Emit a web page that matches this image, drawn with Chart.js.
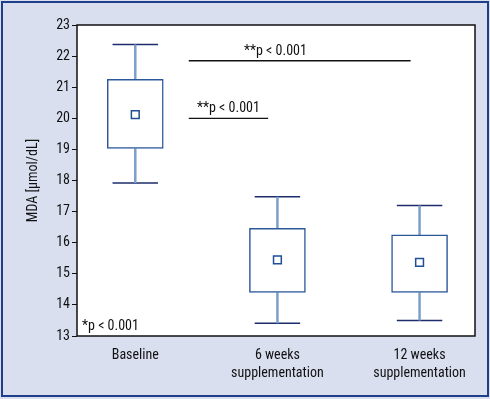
<!DOCTYPE html>
<html>
<head>
<meta charset="utf-8">
<script src="https://cdn.jsdelivr.net/npm/chart.js@4/dist/chart.umd.min.js"></script>
<style>
  html, body { margin: 0; padding: 0; background: #ffffff; }
  #wrap { width: 490px; height: 399px; }
</style>
</head>
<body>
<div id="wrap"><canvas id="c" width="490" height="399"></canvas></div>
<script>
// ---- data ----
const categories = [['Baseline'], ['6 weeks', 'supplementation'], ['12 weeks', 'supplementation']];
const whiskerMax = [22.37, 17.48, 17.20];
const boxQ3      = [21.25, 16.46, 16.25];
const meanVals   = [20.12, 15.45, 15.37];
const boxQ1      = [19.03, 14.40, 14.40];
const whiskerMin = [17.92, 13.41, 13.50];
const yTicks     = [13, 14, 15, 16, 17, 18, 19, 20, 21, 22, 23];

// significance annotations (data coordinates)
const sigLabels = ['**p < 0.001', '**p < 0.001'];
const sigY      = [21.85, 20.00];
const sigX0     = [0.376, 0.376];
const sigX1     = [1.937, 0.935];
const sigTextX  = [0.986, 0.655];
const noteText  = '*p < 0.001';

const FONT = "'Roboto Condensed', 'Liberation Sans', Arial, sans-serif";
const CAP = 0.16;

// build library datasets from arrays
const boxData = categories.map((c, i) => ({ x: i, y: [boxQ1[i], boxQ3[i]] }));
const meanData = categories.map((c, i) => ({ x: i, y: meanVals[i] }));
const stemData = [];
const capData = [];
categories.forEach((c, i) => {
  stemData.push({ x: i, y: whiskerMax[i] }, { x: i, y: boxQ3[i] }, { x: i, y: null });
  stemData.push({ x: i, y: boxQ1[i] }, { x: i, y: whiskerMin[i] }, { x: i, y: null });
  capData.push({ x: i - CAP, y: whiskerMax[i] }, { x: i + CAP, y: whiskerMax[i] }, { x: i, y: null });
  capData.push({ x: i - CAP, y: whiskerMin[i] }, { x: i + CAP, y: whiskerMin[i] }, { x: i, y: null });
});
const sigData = [];
sigY.forEach((y, k) => {
  sigData.push({ x: sigX0[k], y: y }, { x: sigX1[k], y: y }, { x: sigX1[k], y: null });
});

const framePlugin = {
  id: 'frame',
  beforeDraw(chart) {
    const ctx = chart.ctx, a = chart.chartArea;
    ctx.save();
    ctx.fillStyle = '#dadff0';
    ctx.fillRect(0, 0, chart.width, chart.height);
    ctx.strokeStyle = '#1f3f8a';
    ctx.lineWidth = 2;
    ctx.strokeRect(2, 2, chart.width - 4, chart.height - 5);
    ctx.fillStyle = '#ffffff';
    ctx.fillRect(a.left, a.top, a.right - a.left, a.bottom - a.top);
    ctx.strokeStyle = '#111111';
    ctx.lineWidth = 1.5;
    ctx.strokeRect(a.left, a.top, a.right - a.left, a.bottom - a.top);
    ctx.restore();
  },
  afterDatasetsDraw(chart) {
    const ctx = chart.ctx, a = chart.chartArea;
    const xs = chart.scales.x, ys = chart.scales.y;
    ctx.save();
    ctx.fillStyle = '#111111';
    ctx.font = '14px ' + FONT;
    ctx.textAlign = 'center';
    ctx.textBaseline = 'alphabetic';
    sigLabels.forEach((t, k) => {
      ctx.fillText(t, xs.getPixelForValue(sigTextX[k]), ys.getPixelForValue(sigY[k]) - 6);
    });
    ctx.textAlign = 'left';
    ctx.fillText(noteText, a.left + 5, a.bottom - 6);
    ctx.restore();
  }
};

new Chart(document.getElementById('c'), {
  type: 'bar',
  data: {
    datasets: [
      {
        type: 'scatter', data: meanData, order: 0,
        pointStyle: 'rect', pointRadius: 5.5, pointHoverRadius: 5.5,
        pointBackgroundColor: '#ffffff', pointBorderColor: '#1f4f96', pointBorderWidth: 1.5
      },
      {
        type: 'bar', data: boxData, order: 1,
        backgroundColor: '#ffffff', borderColor: '#2c5898', borderWidth: 1.5,
        borderSkipped: false, barThickness: 56
      },
      {
        type: 'line', data: stemData, order: 2, spanGaps: false,
        borderColor: '#7d9fcb', borderWidth: 2.5, pointRadius: 0, fill: false
      },
      {
        type: 'line', data: capData, order: 2, spanGaps: false,
        borderColor: '#1c2c6c', borderWidth: 1.5, pointRadius: 0, fill: false
      },
      {
        type: 'line', data: sigData, order: 2, spanGaps: false,
        borderColor: '#111111', borderWidth: 1.3, pointRadius: 0, fill: false
      }
    ]
  },
  options: {
    responsive: false,
    animation: false,
    events: [],
    layout: { padding: { left: 0, top: 25, right: 15, bottom: 0 } },
    plugins: { legend: { display: false }, tooltip: { enabled: false } },
    scales: {
      x: {
        type: 'linear', min: -0.41, max: 2.39, offset: false,
        afterBuildTicks(s) { s.ticks = categories.map((c, i) => ({ value: i })); },
        afterFit(s) { s.height = 63; },
        grid: { display: false, drawTicks: false },
        border: { display: false },
        ticks: {
          color: '#111111', padding: 11, maxRotation: 0, autoSkip: false,
          font: { family: FONT, size: 14, lineHeight: 1.26 },
          callback: (v) => categories[v] || ''
        }
      },
      y: {
        min: 13, max: 23,
        afterBuildTicks(s) { s.ticks = yTicks.map(v => ({ value: v })); },
        afterFit(s) { s.width = 77; },
        grid: { display: true, drawOnChartArea: false, drawTicks: true, tickLength: 5, color: '#111111', lineWidth: 1 },
        border: { display: false },
        ticks: { color: '#111111', padding: 2, font: { family: FONT, size: 14 } },
        title: {
          display: true, text: 'MDA [\u03bcmol/dL]', color: '#111111',
          font: { family: FONT, size: 14 }, padding: { top: 25, bottom: 0 }
        }
      }
    }
  },
  plugins: [framePlugin]
});
</script>
</body>
</html>
